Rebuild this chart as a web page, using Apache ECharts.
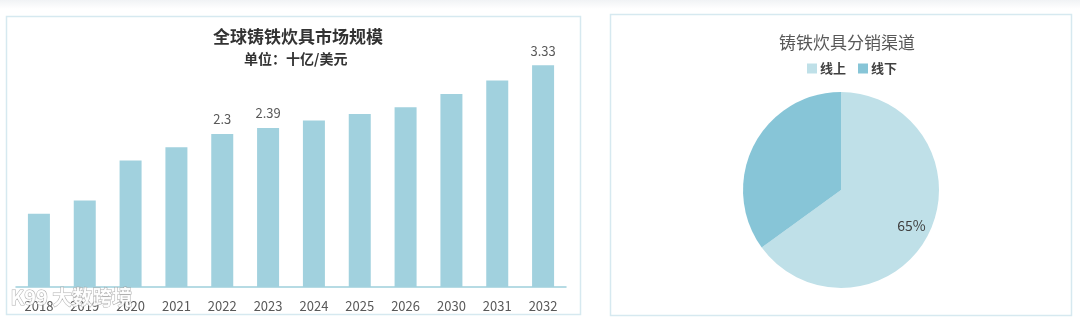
<!DOCTYPE html>
<html>
<head>
<meta charset="utf-8">
<script src="https://cdn.jsdelivr.net/npm/echarts@6/dist/echarts.min.js"></script>
<style>
html,body{margin:0;padding:0;background:#fff;}
#main{width:1080px;height:323px;}
</style>
</head>
<body>
<div id="main"></div>
<script>
const years = ['2018','2019','2020','2021','2022','2023','2024','2025','2026','2030','2031','2032'];
const marketSize = [1.10, 1.30, 1.90, 2.10, 2.30, 2.39, 2.50, 2.60, 2.70, 2.90, 3.10, 3.33];
const labeledYears = ['2022','2023','2032'];
const channelNames = ['线上','线下'];
const channelShare = [65, 35];
const labeledChannels = ['线上'];

const FONT = '"Noto Sans CJK SC", "Noto Sans", sans-serif';
const chart = echarts.init(document.getElementById('main'), null, {renderer:'canvas'});

const barData = years.map((y, i) => ({
  value: marketSize[i],
  label: {show: labeledYears.includes(y)}
}));
const pieData = channelNames.map((n, i) => ({name: n, value: channelShare[i]}));
const pieLabelData = channelNames.map((n, i) => ({
  name: n, value: channelShare[i],
  label: {show: labeledChannels.includes(n)}
}));

chart.setOption({
  animation: false,
  textStyle: {fontFamily: FONT},
  graphic: [
    {type:'rect', shape:{x:0, y:0, width:1080, height:9}, silent:true,
     style:{fill:new echarts.graphic.LinearGradient(0,0,0,1,[{offset:0,color:'#f1f3f5'},{offset:1,color:'#ffffff'}])}},
    {type:'rect', shape:{x:6.5, y:16.5, width:574, height:298}, silent:true, z:-1,
     style:{fill:'#fff', stroke:'#d6e9f0', lineWidth:1.5}},
    {type:'rect', shape:{x:610.5, y:14.5, width:461, height:301}, silent:true, z:-1,
     style:{fill:'#fff', stroke:'#d6e9f0', lineWidth:1.5}},
    {type:'text', left:10, top:287, z:100, silent:true,
     style:{text:'K99 大数跨境', fill:'rgba(255,255,255,0.9)', stroke:'rgba(150,150,150,0.75)', lineWidth:1,
            font:'bold 20px "Noto Sans CJK SC"'}}
  ],
  title: [
    {text:'全球铸铁炊具市场规模', left:208, top:23,
     textStyle:{fontSize:17, fontWeight:'bold', color:'#333', fontFamily:FONT}},
    {text:'单位：十亿/美元', left:239, top:47,
     textStyle:{fontSize:14, fontWeight:'bold', color:'#333', fontFamily:FONT}},
    {text:'铸铁炊具分销渠道', left:774, top:29,
     textStyle:{fontSize:17, fontWeight:'normal', color:'#595959', fontFamily:FONT}}
  ],
  legend: {
    data: channelNames, left: 802, top: 57,
    itemWidth: 10, itemHeight: 10, itemGap: 12, icon: 'rect',
    textStyle: {fontSize: 13, fontWeight: 'bold', color: '#404040', fontFamily: FONT, padding:[0,0,0,-2]}
  },
  grid: {left: 16, right: 514, top: 20.7, bottom: 36, containLabel: false},
  xAxis: {
    type: 'category', data: years,
    axisLine: {lineStyle: {color: '#9fcfdc', width: 1.5}},
    axisTick: {show: false},
    axisLabel: {fontSize: 13, color: '#595959', margin: 13, fontFamily: FONT, interval: 0}
  },
  yAxis: {
    type: 'value', min: 0, max: 4, interval: 1, show: false,
    splitLine: {show: false}
  },
  series: [
    {
      type: 'bar', data: barData, barWidth: 22,
      itemStyle: {color: '#a1d1de'},
      label: {position: 'top', distance: 8, fontSize: 13, color: '#595959', fontFamily: FONT}
    },
    {
      type: 'pie', center: [841, 190], radius: [0, 98],
      startAngle: 90, clockwise: true, data: pieData, silent: true,
      label: {show: false}, labelLine: {show: false},
      itemStyle: {borderWidth: 0},
      color: ['#bfe0e8', '#87c5d7']
    },
    {
      type: 'pie', center: [841, 190], radius: [54, 98],
      startAngle: 90, clockwise: true, data: pieLabelData, silent: true,
      legendHoverLink: false,
      itemStyle: {color: 'rgba(0,0,0,0)'},
      labelLine: {show: false},
      label: {position: 'inside', formatter: '{d}%', fontSize: 14, color: '#404040', fontFamily: FONT},
      z: 5
    }
  ]
});
</script>
</body>
</html>
